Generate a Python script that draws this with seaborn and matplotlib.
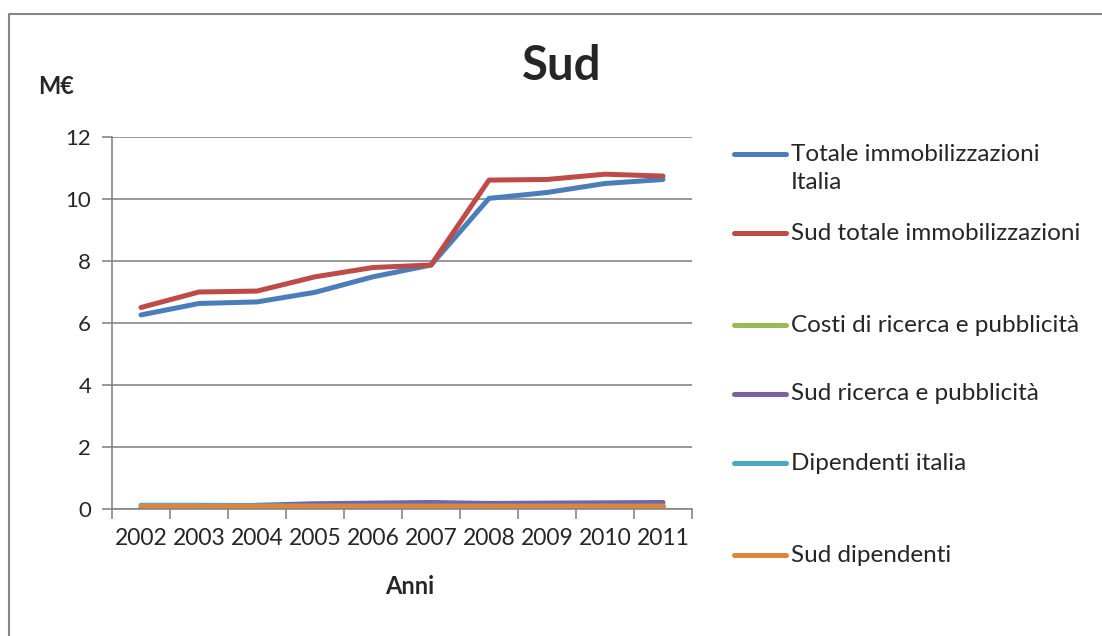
import pandas as pd
import matplotlib
matplotlib.use("Agg")
import matplotlib.pyplot as plt
from matplotlib.lines import Line2D
import seaborn as sns

# Dati (M€)
anni = ["2002", "2003", "2004", "2005", "2006", "2007", "2008", "2009", "2010", "2011"]
totale_italia = [6.26, 6.63, 6.68, 6.99, 7.49, 7.87, 10.02, 10.21, 10.50, 10.63]
sud_totale = [6.50, 7.00, 7.03, 7.49, 7.79, 7.87, 10.61, 10.63, 10.80, 10.74]
costi_ricerca = [0.03, 0.03, 0.04, 0.04, 0.04, 0.04, 0.04, 0.04, 0.04, 0.04]
sud_ricerca = [0.04, 0.06, 0.12, 0.17, 0.19, 0.21, 0.18, 0.19, 0.20, 0.21]
dipendenti_italia = [0.12, 0.12, 0.11, 0.10, 0.10, 0.10, 0.10, 0.10, 0.10, 0.10]
sud_dipendenti = [0.09, 0.09, 0.09, 0.09, 0.09, 0.09, 0.09, 0.09, 0.09, 0.09]

serie = ["Totale immobilizzazioni Italia", "Sud totale immobilizzazioni",
         "Costi di ricerca e pubblicità", "Sud ricerca e pubblicità",
         "Dipendenti italia", "Sud dipendenti"]
valori = [totale_italia, sud_totale, costi_ricerca, sud_ricerca,
          dipendenti_italia, sud_dipendenti]
colori = ["#4A7EBB", "#BE4B48", "#98B954", "#7D60A0", "#46AAC5", "#E0843A"]

rows = []
for nome, vals in zip(serie, valori):
    for i, v in enumerate(vals):
        rows.append([nome, i, v])
df = pd.DataFrame(rows, columns=["serie", "pos", "valore"])

sns.set_style("white")
plt.rcParams["font.family"] = ["Lato", "DejaVu Sans"]

fig = plt.figure(figsize=(11.02, 6.36), dpi=100)
ax = fig.add_axes([112 / 1102, 1 - 509 / 636, 580 / 1102, 372 / 636])

sns.lineplot(data=df, x="pos", y="valore", hue="serie", hue_order=serie,
             palette=colori, linewidth=3.6, legend=False, ax=ax,
             solid_capstyle="round")

grigio = "#868686"
ax.set_xlim(-0.5, len(anni) - 0.5)
ax.set_ylim(0, 12)
ax.set_yticks(range(0, 13, 2))
ax.yaxis.grid(True, color=grigio, linewidth=1.2)
ax.set_axisbelow(True)
ax.set_xticks([i - 0.5 for i in range(len(anni) + 1)])
ax.set_xticklabels([])
ax.set_xticks(range(len(anni)), minor=True)
ax.set_xticklabels(anni, minor=True, fontsize=16.5)
ax.tick_params(axis="x", which="major", bottom=True, direction="out", length=7,
               color=grigio, width=1.2)
ax.tick_params(axis="x", which="minor", bottom=True, length=0, pad=14)
ax.tick_params(axis="y", left=True, direction="out", length=7, color=grigio,
               width=1.2, labelsize=16, pad=8)
ax.set_xlabel("")
ax.set_ylabel("")
for s in ["top", "right"]:
    ax.spines[s].set_visible(False)
for s in ["left", "bottom"]:
    ax.spines[s].set_color(grigio)
    ax.spines[s].set_linewidth(1.2)

# Titoli
fig.text(562 / 1102, 1 - 66 / 636, "Sud", fontsize=34, fontweight="bold", ha="center", va="center")
fig.text(56 / 1102, 1 - 86 / 636, "M€", fontsize=17, fontweight="bold", ha="center", va="center")
fig.text(410 / 1102, 1 - 587 / 636, "Anni", fontsize=17, fontweight="bold", ha="center", va="center")

# Legenda
leg_y = [154, 233, 325, 394, 463, 555]
leg_txt = ["Totale immobilizzazioni\nItalia"] + serie[1:]
for y, t, c in zip(leg_y, leg_txt, colori):
    fy = 1 - y / 636
    fig.add_artist(Line2D([734 / 1102, 786 / 1102], [fy, fy], color=c, linewidth=3.6,
                          solid_capstyle="round"))
    righe = t.split("\n")
    for k, r in enumerate(righe):
        fig.text(791 / 1102, 1 - (y + 28 * k) / 636, r, fontsize=17.5, ha="left", va="center")

# Cornice
fig.add_artist(Line2D([9 / 1102, 9 / 1102, 1], [0, 1 - 14 / 636, 1 - 14 / 636],
                      color=grigio, linewidth=1.5))

fig.savefig("out.png", dpi=100)
